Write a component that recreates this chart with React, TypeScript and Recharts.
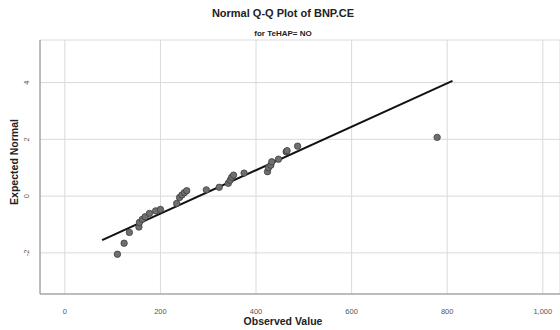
import React from "react";
import {
  ScatterChart,
  Scatter,
  XAxis,
  YAxis,
  CartesianGrid,
  ReferenceLine,
} from "recharts";

// observed BNP.CE values and their expected normal scores
const observed = [
  110, 124, 135, 155, 156, 162, 168, 177, 190, 200, 234, 240, 245, 250, 255,
  296, 323, 342, 346, 349, 353, 375, 424, 426, 431, 433, 447, 463, 465, 487,
  779,
];
const expected = [
  -2.05, -1.66, -1.28, -1.09, -0.93, -0.82, -0.73, -0.61, -0.52, -0.47, -0.26,
  -0.05, 0.04, 0.12, 0.19, 0.22, 0.31, 0.45, 0.56, 0.66, 0.74, 0.81, 0.86,
  1.0, 1.09, 1.21, 1.3, 1.56, 1.6, 1.76, 2.07,
];

// fitted normal line end points
const lineX = [78, 811];
const lineY = [-1.55, 4.06];

const xTicks = [0, 200, 400, 600, 800, 1000];
const yTicks = [-2, 0, 2, 4];

const FONT = "'Liberation Sans', Arial, sans-serif";

const points = observed.map((x, i) => ({ x, y: expected[i] }));

const XTick = (props: any) => {
  const { x, y, payload } = props;
  return (
    <text
      x={x}
      y={y + 12}
      textAnchor="middle"
      fontSize={7.5}
      fontFamily={FONT}
      fill="#555"
    >
      {payload.value.toLocaleString("en-US")}
    </text>
  );
};

const YTick = (props: any) => {
  const { x, y, payload } = props;
  const cx = x - 3;
  return (
    <text
      x={cx}
      y={y}
      textAnchor="middle"
      fontSize={7.5}
      fontFamily={FONT}
      fill="#555"
      transform={`rotate(-90 ${cx} ${y})`}
    >
      {payload.value}
    </text>
  );
};

const Dot = (props: any) => {
  const { cx, cy } = props;
  return (
    <circle cx={cx} cy={cy} r={3.2} fill="#6f6f6f" stroke="#3c3c3c" strokeWidth={0.8} />
  );
};

export default function App() {
  return (
    <div
      style={{
        position: "absolute",
        left: 0,
        top: 0,
        width: 560,
        height: 330,
        background: "#fff",
        fontFamily: FONT,
      }}
    >
      <ScatterChart
        width={560}
        height={330}
        margin={{ top: 40, right: 0, bottom: 0, left: 0 }}
      >
        <CartesianGrid stroke="#dadada" strokeWidth={1} />
        <XAxis
          type="number"
          dataKey="x"
          domain={[-52, 1036]}
          ticks={xTicks}
          height={36}
          tickLine={false}
          axisLine={{ stroke: "#8c8c8c" }}
          tick={<XTick />}
          allowDataOverflow
        />
        <YAxis
          type="number"
          dataKey="y"
          domain={[-3.45, 5.5]}
          ticks={yTicks}
          width={40}
          tickLine={false}
          axisLine={{ stroke: "#8c8c8c" }}
          tick={<YTick />}
          allowDataOverflow
        />
        <ReferenceLine
          segment={[
            { x: lineX[0], y: lineY[0] },
            { x: lineX[1], y: lineY[1] },
          ]}
          stroke="#111"
          strokeWidth={2}
        />
        <Scatter
          data={points}
          shape={<Dot />}
          isAnimationActive={false}
        />
      </ScatterChart>
      <div
        style={{
          position: "absolute",
          left: 0,
          width: 566,
          top: 7,
          textAlign: "center",
          fontSize: 11,
          fontWeight: "bold",
          color: "#222",
        }}
      >
        Normal Q-Q Plot of BNP.CE
      </div>
      <div
        style={{
          position: "absolute",
          left: 0,
          width: 566,
          top: 29,
          textAlign: "center",
          fontSize: 8,
          fontWeight: "bold",
          color: "#222",
        }}
      >
        for TeHAP= NO
      </div>
      <div
        style={{
          position: "absolute",
          left: 0,
          width: 566,
          top: 315,
          textAlign: "center",
          fontSize: 10.5,
          fontWeight: "bold",
          color: "#222",
        }}
      >
        Observed Value
      </div>
      <div
        style={{
          position: "absolute",
          left: 14,
          top: 162,
          transform: "translate(-50%, -50%) rotate(-90deg)",
          whiteSpace: "nowrap",
          fontSize: 10.5,
          fontWeight: "bold",
          color: "#222",
        }}
      >
        Expected Normal
      </div>
    </div>
  );
}
